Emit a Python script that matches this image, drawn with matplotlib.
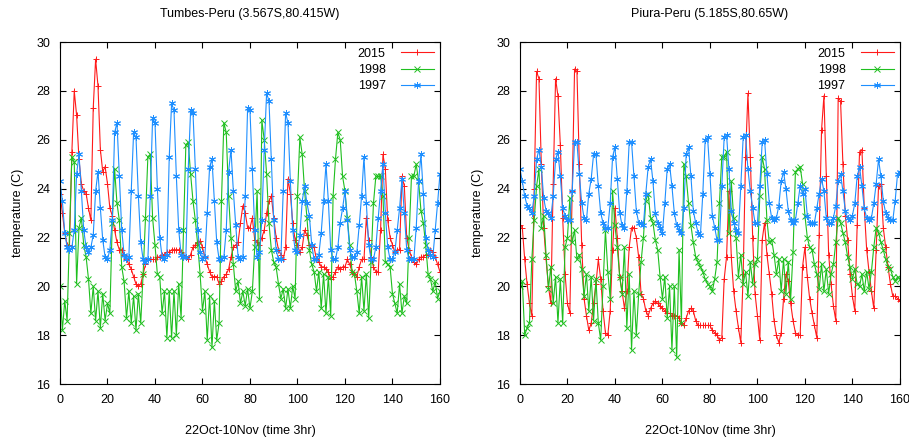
import numpy as np
import matplotlib
matplotlib.use("Agg")
import matplotlib.pyplot as plt

plt.rcParams['font.family'] = ['Liberation Sans Narrow', 'Liberation Sans', 'DejaVu Sans']

# Tumbes-Peru, 3-hourly temperature (C), 22 Oct - 10 Nov
tumbes_2015 = [
    23.8, 23.0, 22.2, 21.7, 21.7, 25.5, 28.0, 27.0, 25.2, 24.2,
    23.9, 23.8, 23.2, 22.7, 27.3, 29.3, 28.2, 25.6, 24.7, 24.9,
    24.2, 23.2, 22.9, 22.3, 21.8, 21.5, 21.5, 21.3, 21.1, 20.9,
    20.7, 20.4, 20.1, 20.0, 20.1, 20.5, 20.9, 21.1, 21.1, 21.1,
    21.1, 21.2, 21.2, 21.3, 21.3, 21.4, 21.4, 21.5, 21.5, 21.5,
    21.5, 21.4, 21.3, 21.2, 21.1, 21.3, 21.6, 21.7, 21.8, 21.85,
    21.6, 21.2, 20.9, 20.6, 20.4, 20.4, 20.4, 20.1, 20.2, 20.4,
    20.5, 20.7, 21.2, 21.6, 21.7, 21.8, 22.6, 23.3, 23.0, 22.4,
    22.4, 22.8, 21.9, 21.8, 21.7, 22.0, 22.3, 23.0, 23.5, 23.7,
    22.8, 22.0, 21.5, 21.3, 21.1, 21.6, 24.4, 23.8, 22.6, 21.9,
    21.7, 21.4, 21.6, 22.3, 22.1, 21.7, 21.6, 21.6, 21.1, 21.0,
    20.8, 20.8, 20.7, 20.6, 20.3, 20.4, 20.6, 20.8, 20.7, 20.8,
    20.8, 21.1, 20.9, 20.6, 20.5, 20.4, 20.8, 21.1, 21.1, 22.8,
    21.9, 21.2, 20.8, 20.6, 20.6, 22.3, 25.4, 24.8, 22.7, 22.0,
    21.7, 21.4, 21.5, 21.5, 24.5, 24.1, 22.0, 21.5, 21.2, 21.0,
    20.9, 21.1, 21.2, 21.2, 21.3, 21.3, 21.5, 21.4, 21.2, 20.9,
    20.6,
]
tumbes_1998 = [
    20.0, 18.2, 19.4, 18.6, 22.2, 25.3, 25.1, 20.1, 22.4, 22.8,
    21.7, 21.2, 20.3, 18.9, 20.0, 18.6, 19.8, 18.3, 19.7, 18.6,
    19.3, 18.9, 22.6, 24.8, 23.4, 22.7, 20.8, 20.2, 18.7, 19.8,
    18.5, 19.6, 18.2, 19.7, 18.5, 20.5, 22.8, 25.3, 25.4, 22.8,
    21.7, 20.5, 20.4, 18.9, 19.8, 17.9, 19.8, 17.9, 19.8, 18.0,
    20.1, 18.7, 22.3, 25.8, 25.9, 24.6, 23.5, 22.7, 21.7, 20.5,
    19.0, 19.8, 17.8, 19.6, 17.5, 19.4, 17.8, 18.5, 23.5, 26.7,
    26.3, 23.7, 22.0, 20.9, 19.8, 20.2, 19.3, 19.8, 19.2, 19.9,
    19.1, 19.8, 21.6, 23.9, 19.5, 26.8, 26.0, 24.6, 22.6, 21.5,
    21.0, 20.8, 20.1, 19.5, 19.9, 19.1, 19.9, 19.1, 20.0, 19.5,
    23.7, 26.1, 25.4, 23.9, 22.8, 21.5, 20.9, 20.6, 19.8, 20.6,
    19.1, 20.5, 18.9, 20.4, 18.8, 23.7, 25.2, 26.3, 26.0, 24.5,
    23.9, 22.8, 21.7, 20.6, 20.5, 19.8, 18.9, 20.4, 19.0, 20.5,
    18.7, 21.0, 23.4, 24.5, 24.5, 24.5, 23.7, 21.0, 20.9, 20.8,
    19.7, 19.3, 18.9, 20.1, 18.9, 19.6, 19.3, 22.0, 24.5, 24.5,
    25.0, 24.3, 23.1, 22.6, 21.7, 20.5, 20.3, 19.8, 20.2, 19.5,
    19.8,
]
tumbes_1997 = [
    24.3, 23.5, 22.2, 21.6, 21.5, 21.6, 22.3, 24.6, 25.4, 23.9,
    22.3, 21.6, 21.4, 21.6, 22.1, 23.9, 24.7, 23.2, 21.9, 21.2,
    21.1, 21.5, 22.7, 26.3, 26.7, 24.5, 22.3, 21.3, 21.1, 21.2,
    23.9, 26.3, 26.1, 23.7, 21.8, 21.1, 21.0, 21.1, 23.7, 26.9,
    26.7, 24.0, 22.0, 21.2, 21.1, 21.3, 25.3, 27.5, 27.2, 24.5,
    22.3, 21.3, 21.2, 21.2, 24.8, 27.2, 27.1, 24.8, 22.3, 21.4,
    21.1, 21.2, 23.0, 24.9, 25.2, 23.5, 21.8, 21.1, 21.1, 21.2,
    22.3, 24.7, 25.6, 23.9, 22.5, 21.2, 21.1, 21.2, 23.7, 27.3,
    27.2, 24.8, 22.3, 21.2, 21.4, 22.7, 25.6, 27.9, 27.6, 25.2,
    22.7, 21.5, 21.1, 21.1, 23.9, 27.1, 26.7, 24.3, 22.3, 21.5,
    21.4, 22.1, 23.5, 24.1, 23.4, 22.9, 21.7, 21.1, 21.1, 21.3,
    22.2, 23.5, 25.0, 23.5, 21.5, 21.1, 21.1, 21.6, 22.6, 23.2,
    23.9, 22.7, 21.5, 21.2, 21.2, 21.4, 22.5, 23.7, 25.3, 23.4,
    21.7, 21.1, 21.1, 21.6, 22.8, 23.9, 25.0, 23.0, 21.6, 21.1,
    21.1, 21.4, 22.3, 23.2, 24.4, 23.0, 21.5, 21.1, 21.1, 21.1,
    22.4, 24.3, 25.4, 23.8, 22.0, 21.5, 21.3, 21.2, 22.3, 23.4,
    24.6,
]

# Piura-Peru
piura_2015 = [
    22.5, 22.4, 21.1, 20.1, 19.3, 18.8, 24.0, 28.8, 28.5, 25.0,
    22.4, 21.1, 20.0, 19.3, 24.2, 28.5, 27.8, 25.8, 22.8, 20.5,
    19.3, 18.9, 23.9, 28.9, 28.8, 25.0, 21.7, 19.5, 18.8, 18.2,
    18.5, 19.3, 20.1, 21.1, 20.3, 19.0, 18.1, 18.0, 19.0, 21.5,
    23.2, 22.0, 20.4, 19.8, 19.1, 19.8, 21.6, 22.4, 22.4, 22.0,
    21.2, 19.7, 19.5, 19.0, 18.8, 19.1, 19.3, 19.4, 19.3, 19.2,
    19.1, 19.0, 18.9, 18.9, 18.8, 18.8, 18.8, 18.7, 18.5, 18.4,
    18.7, 19.0, 19.1, 19.0, 18.6, 18.4, 18.4, 18.4, 18.4, 18.4,
    18.4, 18.2, 18.1, 18.0, 17.8, 17.9, 20.3, 21.2, 23.9, 21.2,
    19.8, 19.0, 18.3, 17.7, 20.5, 25.3, 27.9, 25.3, 22.0, 19.7,
    18.8, 17.8, 21.9, 22.6, 21.3, 20.5, 19.7, 18.6, 18.0, 17.7,
    18.1, 19.5, 20.5, 20.2, 19.3, 18.6, 18.1, 18.0, 18.0, 20.8,
    21.6, 20.4, 19.5, 18.9, 18.4, 17.9, 22.1, 26.4, 27.8, 24.5,
    21.3, 20.1, 19.2, 18.6, 27.7, 27.6, 25.0, 22.9, 21.9, 20.5,
    19.6, 19.0, 22.5, 25.5, 25.6, 23.2, 21.5, 20.6, 19.8, 19.1,
    21.5, 24.1, 24.2, 22.4, 21.6, 20.8, 20.1, 19.6, 19.6, 19.5,
    19.4,
]
piura_1998 = [
    20.0, 20.2, 18.0, 18.3, 18.5, 21.1, 22.7, 24.1, 24.8, 22.4,
    22.9, 21.3, 19.9, 20.8, 19.3, 20.4, 18.5, 20.3, 18.5, 21.6,
    22.0, 23.6, 21.8, 22.3, 21.1, 21.3, 20.7, 19.6, 20.5, 19.0,
    20.4, 18.6, 20.3, 18.5, 17.8, 20.0, 22.3, 20.6, 19.5, 23.9,
    22.5, 21.6, 20.4, 19.7, 21.6, 18.3, 20.5, 17.4, 19.8, 18.0,
    19.7, 21.0, 22.0, 23.5, 23.8, 22.8, 22.6, 21.9, 21.5, 20.4,
    19.5, 20.4, 18.7, 20.0, 17.4, 20.0, 17.1, 21.5, 18.5, 25.0,
    24.5, 23.4, 22.5, 21.8, 21.2, 21.0, 20.8, 20.6, 20.3, 20.1,
    20.0, 19.8, 20.3, 21.0, 23.4, 25.3, 25.3, 25.5, 22.2, 24.3,
    22.8, 22.0, 20.4, 21.3, 20.1, 20.6, 19.6, 21.0, 20.1, 20.9,
    21.1, 23.7, 25.3, 24.8, 22.7, 21.8, 21.9, 21.3, 20.5, 21.1,
    19.8, 21.1, 19.7, 21.0, 19.5, 21.4, 24.7, 24.8, 24.9, 24.2,
    22.9, 22.0, 21.6, 21.5, 20.9, 20.5, 19.9, 20.9, 19.8, 20.7,
    19.7, 20.5, 20.9, 21.8, 22.8, 22.6, 22.2, 21.8, 21.2, 20.8,
    20.3, 20.7, 20.1, 20.0, 20.5, 19.8, 20.6, 19.9, 20.6, 21.6,
    22.4, 22.2, 21.8, 21.5, 21.1, 20.8, 20.7, 20.4, 20.2, 20.4,
    20.3,
]
piura_1997 = [
    24.8, 24.3, 23.7, 23.3, 23.2, 23.0, 23.7, 25.2, 25.6, 24.9,
    23.6, 23.1, 23.0, 22.8, 23.7, 25.2, 25.5, 24.5, 23.2, 22.9,
    22.7, 22.7, 23.9, 25.9, 25.9, 24.6, 23.4, 22.8, 22.7, 23.8,
    24.4, 25.4, 25.4, 24.1, 23.0, 22.6, 22.4, 22.4, 23.4, 25.3,
    25.7, 24.4, 23.0, 22.5, 22.4, 23.9, 25.9, 25.9, 24.5, 23.1,
    22.6, 22.6, 22.5, 23.8, 24.9, 25.2, 24.3, 23.0, 22.6, 22.4,
    22.2, 23.4, 24.8, 25.0, 24.1, 23.0, 22.5, 22.3, 22.2, 23.2,
    25.4, 25.7, 24.5, 23.1, 22.6, 22.2, 22.1, 23.8, 26.0, 26.1,
    24.6, 22.9, 22.4, 21.9, 21.9, 24.1, 26.1, 26.2, 24.8, 23.1,
    22.6, 22.3, 22.2, 24.1, 26.1, 26.2, 24.8, 23.9, 23.2, 22.6,
    22.6, 24.1, 25.9, 26.0, 24.6, 23.4, 22.8, 22.7, 22.8, 23.3,
    24.3, 24.7, 24.0, 23.1, 22.7, 22.6, 22.7, 23.4, 24.1, 23.8,
    24.0, 22.9, 22.6, 22.6, 22.6, 23.2, 23.8, 24.4, 23.9, 22.8,
    22.6, 22.6, 22.8, 23.3, 24.3, 24.6, 23.9, 23.1, 22.8, 22.7,
    22.9, 23.4, 24.5, 24.9, 24.1, 23.2, 22.8, 22.7, 22.8, 23.4,
    24.2, 25.2, 24.5, 23.5, 23.0, 22.8, 22.7, 22.7, 23.5, 24.6,
    24.7,
]

panels = [
    ("Tumbes-Peru (3.567S,80.415W)", tumbes_2015, tumbes_1998, tumbes_1997),
    ("Piura-Peru (5.185S,80.65W)", piura_2015, piura_1998, piura_1997),
]
years = ["2015", "1998", "1997"]
colors = ["#ff1a1a", "#1fbf1f", "#1e8fff"]
markers = ["+", "x", (6, 2, 0)]

fig = plt.figure(figsize=(9.09, 4.43), dpi=100)
lefts = [0.066, 0.572]

for left, (title, s2015, s1998, s1997) in zip(lefts, panels):
    ax = fig.add_axes([left, 0.133, 0.418, 0.772])
    for name, vals, c, m in zip(years, [s2015, s1998, s1997], colors, markers):
        ax.plot(np.arange(len(vals)), vals, color=c, lw=0.8, marker=m,
                markersize=5, markeredgewidth=0.7, label=name)
    ax.set_xlim(0, 160)
    ax.set_ylim(16, 30)
    ax.set_xticks(range(0, 161, 20))
    ax.set_yticks(range(16, 31, 2))
    ax.tick_params(direction='in', top=True, right=True, length=4,
                   labelsize=9, pad=7)
    ax.set_title(title, fontsize=9, pad=18)
    ax.set_xlabel("22Oct-10Nov (time 3hr)", fontsize=9, labelpad=14)
    ax.set_ylabel("temperature (C)", fontsize=9, labelpad=9)
    ax.legend(loc='upper right', frameon=False, markerfirst=False,
              fontsize=9, handlelength=2.7, labelspacing=0.35,
              borderaxespad=0.05, handletextpad=1.2)

fig.savefig("out.png", dpi=100)
